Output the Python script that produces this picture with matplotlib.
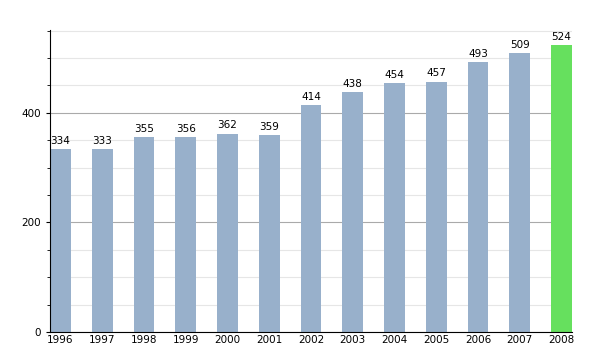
import numpy as np
import matplotlib.pyplot as plt
from matplotlib.ticker import MultipleLocator

years = ["1996", "1997", "1998", "1999", "2000", "2001", "2002",
         "2003", "2004", "2005", "2006", "2007", "2008"]
values = [334, 333, 355, 356, 362, 359, 414, 438, 454, 457, 493, 509, 524]
colors = ["#98b0cb"] * 12 + ["#66e05e"]

fig = plt.figure(figsize=(6, 3.5), dpi=100)
ax = fig.add_axes([50 / 600, 18 / 350, 522 / 600, 302 / 350])

x = np.arange(len(years))
bars = ax.bar(x, values, width=0.5, color=colors, zorder=2)
for xi, v in zip(x, values):
    ax.text(xi, v + 6, str(v), ha="center", va="bottom", fontsize=7.5, zorder=3)

ax.set_xlim(-0.25, len(years) - 0.75)
ax.set_ylim(0, 551)
ax.set_xticks(x)
ax.set_xticklabels(years, fontsize=7.5)
ax.yaxis.set_major_locator(MultipleLocator(200))
ax.yaxis.set_minor_locator(MultipleLocator(50))
ax.tick_params(axis="y", labelsize=7.5, length=3, which="major")
ax.tick_params(axis="y", length=2, which="minor")
ax.tick_params(axis="x", length=0, pad=2)

ax.grid(axis="y", which="minor", color="#e6e6e6", lw=0.8, zorder=0)
ax.grid(axis="y", which="major", color="#aaaaaa", lw=0.8, zorder=1)
ax.spines["top"].set_visible(False)
ax.spines["right"].set_visible(False)
ax.set_axisbelow(True)

fig.savefig("out.png", dpi=100)
